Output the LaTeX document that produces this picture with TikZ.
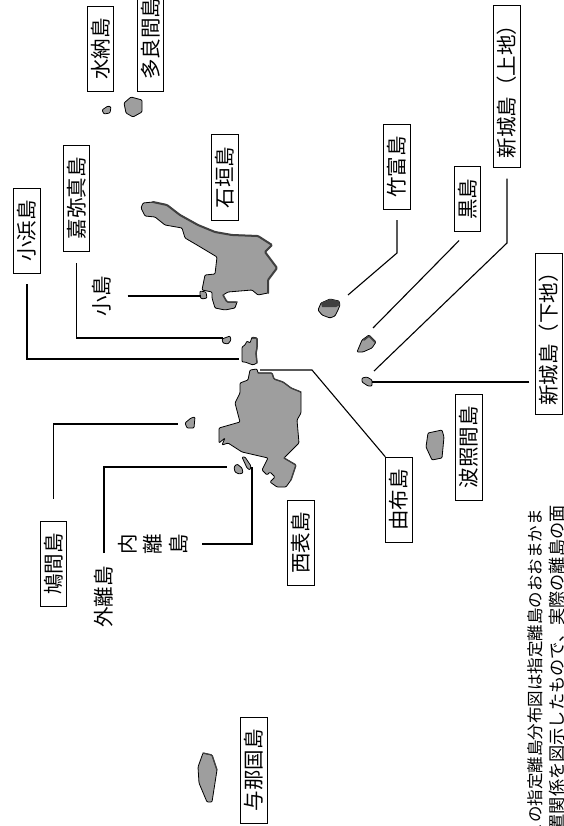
\documentclass[tikz,border=0pt]{standalone}
\usepackage{fontspec}
\setmainfont{Noto Sans CJK JP}
\usepackage{xcolor}
\usetikzlibrary{positioning, arrows.meta}
\tikzset{
  namebox/.style={draw, line width=1pt, rotate=90, inner xsep=12pt, inner ysep=0pt, minimum height=26.5pt, font=\fontsize{20.5}{25}\selectfont},
  namefree/.style={rotate=90, inner sep=0pt, align=center, font=\fontsize{20.5}{25.5}\selectfont},
  noteline/.style={rotate=90, anchor=east, inner sep=0pt},
  leader/.style={line width=1.1pt},
  island/.style={draw, line width=0.8pt, fill=black!38, rounded corners=1pt},
  shadeedge/.style={draw=black!75, line width=2pt, line cap=round, rounded corners=1pt}
}
\begin{document}
\begin{tikzpicture}[x=1pt, y=-1pt]
  \useasboundingbox[fill=white] (0,0) rectangle (563,826);
  % names
  \node[namebox] (minna) at (100.5,49) {水納島};
  \node[namebox] (tarama) at (150.5,39) {多良間島};
  \node[namebox] (kayama) at (76.5,198.5) {嘉弥真島};
  \node[namebox] (kohama) at (27,231) {小浜島};
  \node[namebox] (ishigaki) at (225,177.5) {石垣島};
  \node[namebox] (taketomi) at (397,167) {竹富島};
  \node[namebox] (kuro) at (467.5,199) {黒島};
  \node[namebox, inner xsep=9pt] (kamiji) at (507,86.5) {新城島（上地）};
  \node[namebox, inner xsep=9pt] (shimoji) at (549,334) {新城島（下地）};
  \node[namebox] (hateruma) at (469,447) {波照間島};
  \node[namebox] (yubu) at (399,500) {由布島};
  \node[namebox] (iriomote) at (301,543) {西表島};
  \node[namebox] (hatoma) at (53.5,564) {鳩間島};
  \node[namebox] (yonaguni) at (254,770) {与那国島};
  \node[namefree] (kojima) at (102,296) {小島};
  \node[namefree] (sotobanari) at (104,597) {外離島};
  \node[namefree] (uchibanari) at (153,544) {内\\離\\島};
  % note
  \node[noteline, font=\fontsize{16.5}{20}\selectfont] (noteone) at (535,509) {この指定離島分布図は指定離島のおおまかま};
  \node[noteline, font=\fontsize{17.2}{20}\selectfont] (notetwo) at (557,505) {置関係を図示したもので、実際の離島の面};
  % islands
  \draw[island] (141,208) -- (143,203) -- (153,202) -- (167,205) -- (180,215) -- (198,225) -- (215,232) -- (232,235) -- (258,236) -- (272,245) -- (265,252) -- (277,268) -- (268,280) -- (268,293) -- (258,295) -- (252,290) -- (228,292) -- (223,295) -- (227,302) -- (237,302) -- (235,308) -- (225,310) -- (215,308) -- (212,298) -- (212,292) -- (202,290) -- (205,275) -- (215,274) -- (217,257) -- (197,245) -- (185,238) -- (182,228) -- (165,225) -- (155,217) -- (145,216) -- cycle;
  \draw[shadeedge] (153,202) -- (167,205) -- (180,215) -- (198,225) -- (215,232) -- (232,235) -- (258,236) -- (272,245) -- (265,252) -- (277,268) -- (268,280) -- (268,293);
  \draw[shadeedge, line width=1.5pt] (223,295) -- (227,302) -- (237,302);
  \draw[island] (200,291) -- (206,292) -- (207,298) -- (202,299) -- (200,297) -- cycle;
  \draw[island] (222,339) -- (230,336) -- (231,340) -- (228,344) -- (223,343) -- cycle;
  \draw[island] (242,347) -- (245,345) -- (247,341) -- (250,343) -- (252,337) -- (257,338) -- (257,348) -- (256,353) -- (257,363) -- (253,365) -- (245,362) -- (242,362) -- cycle;
  \draw[shadeedge, line width=1.5pt] (252,338) -- (257,338) -- (257,348) -- (256,353) -- (257,363);
  \draw[island] (250,370) -- (257,369) -- (258,373) -- (272,373) -- (274,379) -- (283,382) -- (291,388) -- (301,392) -- (301,413) -- (297,420) -- (299,443) -- (284,458) -- (296,465) -- (291,480) -- (286,487) -- (277,487) -- (270,482) -- (275,477) -- (270,472) -- (267,475) -- (262,470) -- (268,458) -- (242,452) -- (228,443) -- (222,445) -- (225,438) -- (219,443) -- (219,428) -- (240,422) -- (235,403) -- (240,393) -- (240,383) -- (248,380) -- cycle;
  \draw[shadeedge, line width=1.3pt] (258,373) -- (272,373) -- (274,379) -- (283,382) -- (291,388) -- (301,392);
  \draw[shadeedge, line width=1.3pt] (284,458) -- (296,465) -- (291,480);
  \draw[island] (234,467) -- (237,464) -- (242,468) -- (243,473) -- (239,474) -- (235,472) -- cycle;
  \draw[island] (242,457) -- (245,457) -- (251,466) -- (250,470) -- (247,468) -- cycle;
  \draw[island] (185,423) -- (191,418) -- (195,417) -- (194,428) -- (187,428) -- cycle;
  \draw[island] (318,310) -- (321,303) -- (330,299) -- (339,301) -- (340,305) -- (338,310) -- (335,316) -- (330,318) -- (322,315) -- cycle;
  \fill[black!75] (321,303) -- (330,299) -- (339,301) -- (340,305) -- (336,307) -- (322,307) -- cycle;
  \draw[island] (357,352) -- (362,340) -- (369,335) -- (376,342) -- (372,348) -- (363,352) -- cycle;
  \draw[shadeedge, line width=1.6pt] (364,340) -- (369,336) -- (375,342);
  \draw[island] (362,378) -- (367,377) -- (372,380) -- (372,386) -- (368,386) -- (362,382) -- cycle;
  \draw[island] (428,433) -- (442,430) -- (444,437) -- (442,458) -- (432,460) -- (426,447) -- cycle;
  \draw[island] (203,753) -- (212,755) -- (217,770) -- (212,802) -- (207,802) -- (199,783) -- (198,767) -- cycle;
  \draw[shadeedge, line width=1.3pt] (203,753) -- (212,755) -- (217,770);
  \draw[island] (102,110) -- (108,106) -- (111,107) -- (110,113) -- (104,114) -- cycle;
  \draw[island] (124,103) -- (131,97) -- (142,100) -- (142,112) -- (133,117) -- (126,113) -- cycle;
  % leader ends
  \coordinate (kohamaend) at (239,359); \coordinate (kohamabend) at (27,359);
  \coordinate (kayamaend) at (223,338); \coordinate (kayamabend) at (76.5,338);
  \coordinate (kojimaend) at (201,296);
  \coordinate (taketomibend) at (397,253); \coordinate (taketomiend) at (348,295);
  \coordinate (kuroend) at (373,328);
  \coordinate (kamijibend) at (507,243); \coordinate (kamijiend) at (374,371);
  \coordinate (shimojiend) at (372,382);
  \coordinate (yububend) at (312,370); \coordinate (yubuend) at (260,370);
  \coordinate (hatomabend) at (53.5,424); \coordinate (hatomaend) at (178,424);
  \coordinate (sotobend) at (104,467); \coordinate (sotoend) at (227,467);
  \coordinate (uchibend) at (252,544); \coordinate (uchiend) at (252,467);
  % leaders
  \draw[leader, shorten <=10pt] (kohama.west) -- (kohamabend) -- (kohamaend);
  \draw[leader, shorten <=11pt] (kayama.west) -- (kayamabend) -- (kayamaend);
  \draw[leader, shorten <=16pt] (kojima.south) -- (kojimaend);
  \draw[leader, shorten <=10pt] (taketomi.west) -- (taketomibend) -- (taketomiend);
  \draw[leader, shorten <=12pt] (kuro.west) -- (kuroend);
  \draw[leader, shorten <=11pt] (kamiji.west) -- (kamijibend) -- (kamijiend);
  \draw[leader, shorten <=6pt] (shimoji.north |- shimojiend) -- (shimojiend);
  \draw[leader] (yubu.north east) -- (yububend) -- (yubuend);
  \draw[leader, shorten <=22pt] (hatoma.east) -- (hatomabend) -- (hatomaend);
  \draw[leader, shorten <=13pt] (sotobanari.east) -- (sotobend) -- (sotoend);
  \draw[leader, shorten <=14pt] (uchibanari.south) -- (uchibend) -- (uchiend);
\end{tikzpicture}
\end{document}
